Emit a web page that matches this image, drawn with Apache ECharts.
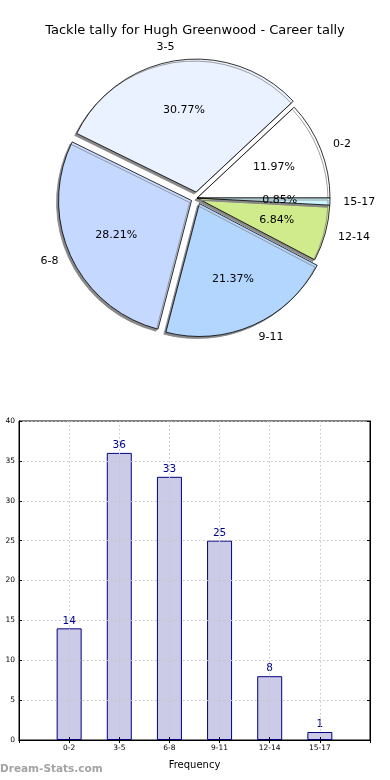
<!DOCTYPE html>
<html>
<head>
<meta charset="utf-8">
<script src="https://cdn.jsdelivr.net/npm/echarts@6/dist/echarts.min.js"></script>
<style>html,body{margin:0;padding:0;background:#fff}#c{width:390px;height:780px}</style>
</head>
<body>
<div id="c"></div>
<script>
const categories = ['0-2', '3-5', '6-8', '9-11', '12-14', '15-17'];
const counts = [14, 36, 33, 25, 8, 1];
const exploded = [false, true, true, true, false, false];
const sliceColors = ['#ffffff', '#ebf2ff', '#c5d8ff', '#b3d6ff', '#d0eb8c', '#ccf5ff'];
const yTicks = [0, 5, 10, 15, 20, 25, 30, 35, 40];

const FONT = 'DejaVu Sans';
const C = [197, 198];
const R = 133;
const total = counts.reduce((a, b) => a + b, 0);

function pieData(withColor) {
  return categories.map((c, i) => ({
    name: c,
    value: counts[i],
    selected: exploded[i],
    itemStyle: withColor ? { color: sliceColors[i] } : { color: 'rgba(0,0,0,0)', borderWidth: 0 }
  }));
}

const padCats = [''].concat(categories, ['']);
const padCounts = [null].concat(counts, [null]);

const chart = echarts.init(document.getElementById('c'), null, { renderer: 'canvas' });
chart.setOption({
  animation: false,
  backgroundColor: '#fff',
  title: [
    { text: 'Tackle tally for Hugh Greenwood - Career tally', left: 'center', top: 24, padding: 0,
      textStyle: { fontFamily: FONT, fontSize: 13, fontWeight: 'normal', color: '#000' } },
    { text: 'Dream-Stats.com', left: 0, top: 764, padding: 0,
      textStyle: { fontFamily: FONT, fontSize: 10.5, fontWeight: 'bold', color: '#a3a3a3' } }
  ],
  grid: { left: 19, right: 20, top: 421, bottom: 40, show: true, borderColor: '#000', borderWidth: 1, containLabel: false },
  xAxis: [
    { type: 'category', data: padCats, boundaryGap: false, z: 5,
      axisLine: { lineStyle: { color: '#000' } },
      axisTick: { inside: true, length: 3, lineStyle: { color: '#000' } },
      axisLabel: { fontFamily: FONT, fontSize: 7.5, color: '#000', margin: 4, interval: 0 },
      splitLine: { show: true, lineStyle: { color: '#c4c4c4', type: [1.5, 2.5], width: 1 } },
      name: 'Frequency', nameLocation: 'middle', nameGap: 20,
      nameTextStyle: { fontFamily: FONT, fontSize: 10, color: '#000' } },
    { type: 'category', data: padCats, boundaryGap: false, position: 'top', z: 5,
      axisLine: { lineStyle: { color: '#000' } },
      axisTick: { inside: true, length: 3, lineStyle: { color: '#000' } },
      axisLabel: { show: false }, splitLine: { show: false } }
  ],
  yAxis: [
    { type: 'value', min: 0, max: 40, interval: 5, z: 5,
      axisLine: { show: true, lineStyle: { color: '#000' } },
      axisTick: { show: true, inside: true, length: 3, lineStyle: { color: '#000' } },
      axisLabel: { fontFamily: FONT, fontSize: 7.5, color: '#000', margin: 4,
        formatter: v => yTicks.includes(v) ? String(v) : '' },
      splitLine: { show: true, lineStyle: { color: '#c4c4c4', type: [1.5, 2.5], width: 1 } } },
    { type: 'value', min: 0, max: 40, interval: 5, position: 'right', z: 5,
      axisLine: { show: true, lineStyle: { color: '#000' } },
      axisTick: { show: true, inside: true, length: 3, lineStyle: { color: '#000' } },
      axisLabel: { show: false }, splitLine: { show: false } }
  ],
  series: [
    {
      type: 'pie', center: C, radius: R, startAngle: 0, clockwise: false,
      selectedMode: 'multiple', selectedOffset: 6, silent: true,
      avoidLabelOverlap: false,
      itemStyle: { borderColor: '#000', borderWidth: 0.8, shadowColor: '#888888', shadowBlur: 0, shadowOffsetX: -2, shadowOffsetY: 2 },
      label: { show: false }, labelLine: { show: false },
      emphasis: { disabled: true },
      data: pieData(true), z: 2
    },
    {
      type: 'pie', center: C, radius: [0, R * 1.2], startAngle: 0, clockwise: false,
      selectedMode: 'multiple', selectedOffset: 6, silent: true,
      avoidLabelOverlap: false,
      label: { show: true, position: 'inside',
        formatter: p => (p.value / total * 100).toFixed(2) + '%',
        fontFamily: FONT, fontSize: 11, color: '#000' },
      labelLine: { show: false },
      emphasis: { disabled: true },
      data: pieData(false), z: 3
    },
    {
      type: 'pie', center: C, radius: R * 1.1, startAngle: 0, clockwise: false,
      selectedMode: 'multiple', selectedOffset: 6, silent: true,
      avoidLabelOverlap: false,
      label: { show: true, position: 'outside', formatter: '{b}', distanceToLabelLine: 0,
        fontFamily: FONT, fontSize: 11, color: '#000' },
      labelLine: { show: false, length: 0, length2: 0 },
      emphasis: { disabled: true },
      data: pieData(false), z: 3
    },
    {
      type: 'bar', xAxisIndex: 0, yAxisIndex: 0, data: padCounts, barWidth: 25,
      itemStyle: { color: 'rgba(190,190,225,0.8)', borderColor: '#000080', borderWidth: 1 },
      label: { show: true, position: 'top', distance: 2, fontFamily: FONT, fontSize: 10.5, color: '#00008b' },
      silent: true, z: 2
    }
  ]
});
</script>
</body>
</html>
